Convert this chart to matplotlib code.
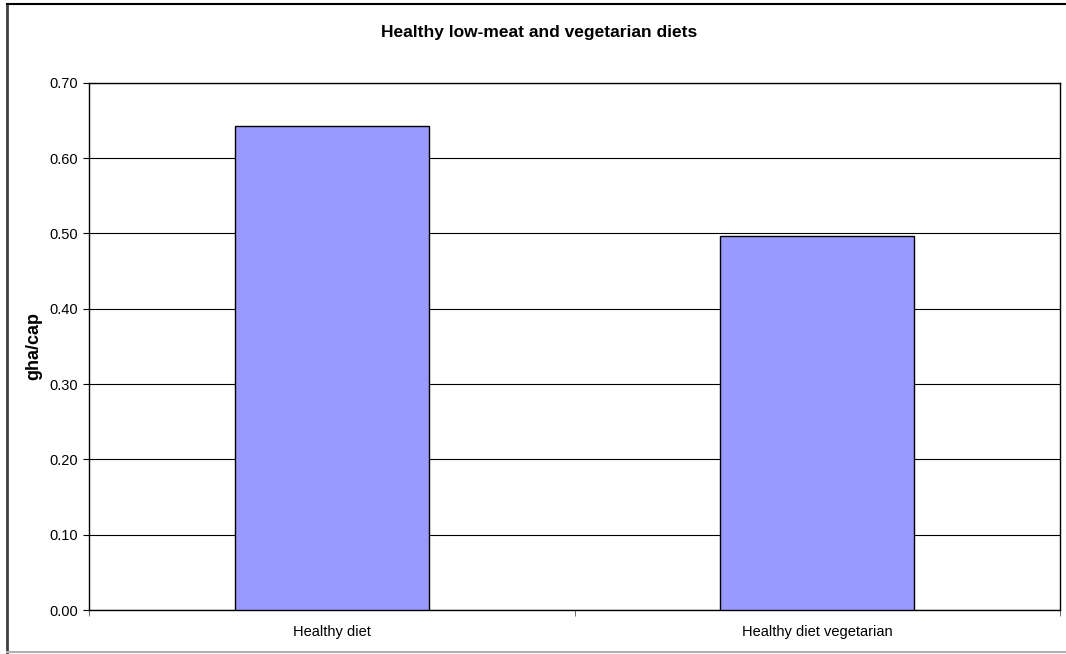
import numpy as np
import matplotlib
matplotlib.use('Agg')
import matplotlib.pyplot as plt
from matplotlib.lines import Line2D

plt.rcParams['font.family'] = ['Liberation Sans', 'DejaVu Sans']

categories = ['Healthy diet', 'Healthy diet vegetarian']
values = [0.643, 0.497]
yticks = [0.0, 0.1, 0.2, 0.3, 0.4, 0.5, 0.6, 0.7]

W, H = 1066, 654
fig = plt.figure(figsize=(W / 100, H / 100), dpi=100)

# chart-area frame
fig.add_artist(Line2D([7 / W, 7 / W], [1 - 4 / H, 1 - 652 / H], transform=fig.transFigure, color='#404040', lw=2))
fig.add_artist(Line2D([7 / W, 1066 / W], [1 - 4 / H, 1 - 4 / H], transform=fig.transFigure, color='black', lw=1.5))
fig.add_artist(Line2D([7 / W, 1066 / W], [1 - 652 / H, 1 - 652 / H], transform=fig.transFigure, color='#b0b0b0', lw=1.5))

left, right, top, bottom = 89, 1060, 82.7, 610
ax = fig.add_axes([left / W, 1 - bottom / H, (right - left) / W, (bottom - top) / H])

x = np.arange(len(categories))
ax.bar(x, values, width=0.4, color='#9999FF', edgecolor='black', linewidth=1, zorder=3)

ax.set_xlim(-0.5, len(categories) - 0.5)
ax.set_ylim(0, 0.7)
ax.set_yticks(yticks)
ax.set_yticklabels([f'{v:.2f}' for v in yticks], fontsize=10.5)
ax.yaxis.grid(True, color='black', lw=0.8, zorder=0)

ax.set_xticks(x)
ax.set_xticklabels(categories, fontsize=10.5)
ax.set_xticks(np.arange(-0.5, len(categories)), minor=True)
ax.tick_params(axis='x', which='major', length=0, pad=10.5)
ax.tick_params(axis='x', which='minor', length=4, direction='out', color='#555555')
ax.tick_params(axis='y', length=4, direction='out', pad=4)

for s in ax.spines.values():
    s.set_linewidth(1)
    s.set_color('black')

ax.set_ylabel('gha/cap', fontsize=13, fontweight='bold')
ax.yaxis.set_label_coords(-47 / (right - left), 0.5)
fig.text(539 / W, 1 - 32 / H, 'Healthy low-meat and vegetarian diets',
         ha='center', va='center', fontsize=12.5, fontweight='bold')

fig.savefig('out.png', dpi=100)
